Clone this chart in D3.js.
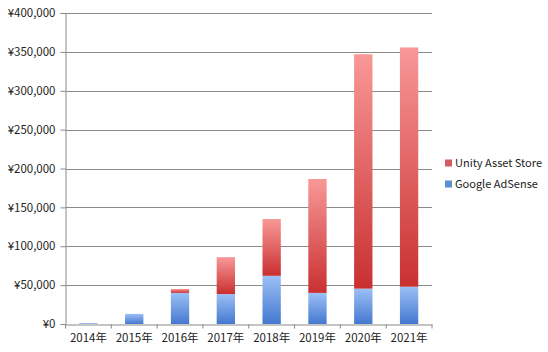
<!DOCTYPE html>
<html>
<head>
<meta charset="utf-8">
<script src="https://cdn.jsdelivr.net/npm/d3@7"></script>
<style>
  body { margin: 0; background: #fff; }
  text { font-family: "Noto Sans CJK JP", "Open Sans", sans-serif; }
</style>
</head>
<body>
<div id="chart"></div>
<script>
const years = ["2014年", "2015年", "2016年", "2017年", "2018年", "2019年", "2020年", "2021年"];
const adsense = [1000, 13000, 40000, 38500, 62000, 40000, 45500, 48000];
const assetStore = [0, 0, 5000, 47500, 73000, 146500, 301500, 307700];
const yTicks = [0, 50000, 100000, 150000, 200000, 250000, 300000, 350000, 400000];
const seriesNames = ["Unity Asset Store", "Google AdSense"];

const width = 548, height = 352;
const margin = { top: 13, right: 116, bottom: 28, left: 65.5 };

const svg = d3.select("#chart").append("svg")
  .attr("width", width)
  .attr("height", height);

// グラデーション
const defs = svg.append("defs");
function grad(id, top, bottom) {
  const g = defs.append("linearGradient").attr("id", id)
    .attr("x1", 0).attr("y1", 0).attr("x2", 0).attr("y2", 1);
  g.append("stop").attr("offset", "0%").attr("stop-color", top);
  g.append("stop").attr("offset", "100%").attr("stop-color", bottom);
}
grad("gBlue", "#9cc0f6", "#4478cf");
grad("gRed", "#f99898", "#c93030");

const x = d3.scaleBand()
  .domain(years)
  .range([margin.left, 432])
  .paddingInner(0.6)
  .paddingOuter(0.3);

const y = d3.scaleLinear()
  .domain([0, 400000])
  .range([324, margin.top]);

// グリッド線
svg.append("g")
  .selectAll("line")
  .data(yTicks.slice(1))
  .enter().append("line")
  .attr("x1", margin.left).attr("x2", 432)
  .attr("y1", d => Math.round(y(d)) + 0.5).attr("y2", d => Math.round(y(d)) + 0.5)
  .attr("stroke", "#8a8a8a");

// 棒
const data = years.map((yr, i) => ({ year: yr, a: adsense[i], u: assetStore[i] }));

svg.append("g").selectAll("rect")
  .data(data).enter().append("rect")
  .attr("x", d => x(d.year))
  .attr("width", x.bandwidth())
  .attr("y", d => y(d.a))
  .attr("height", d => y(0) - y(d.a))
  .attr("fill", "url(#gBlue)");

svg.append("g").selectAll("rect")
  .data(data.filter(d => d.u > 0)).enter().append("rect")
  .attr("x", d => x(d.year))
  .attr("width", x.bandwidth())
  .attr("y", d => y(d.a + d.u))
  .attr("height", d => y(d.a) - y(d.a + d.u))
  .attr("fill", "url(#gRed)");

// Y軸
const yAxis = svg.append("g")
  .attr("transform", `translate(${margin.left},0)`)
  .call(d3.axisLeft(y).tickValues(yTicks).tickSize(5).tickPadding(5)
    .tickFormat(d => "¥" + d3.format(",")(d)));
yAxis.selectAll("path, line").attr("stroke", "#8a8a8a");
yAxis.selectAll("text").attr("font-size", 11.5).attr("fill", "#222");

// X軸
const xAxis = svg.append("g")
  .attr("transform", `translate(0,${Math.round(y(0)) + 0.5})`)
  .call(d3.axisBottom(x).tickSize(0).tickPadding(9));
xAxis.select("path").attr("stroke", "#8a8a8a");
xAxis.selectAll("text").attr("font-size", 11.5).attr("fill", "#222");

const step = x.step();
xAxis.selectAll("line.sep")
  .data(d3.range(years.length + 1)).enter().append("line")
  .attr("class", "sep")
  .attr("x1", i => margin.left + i * (432 - margin.left) / years.length)
  .attr("x2", i => margin.left + i * (432 - margin.left) / years.length)
  .attr("y1", 0).attr("y2", 4)
  .attr("stroke", "#8a8a8a");

// 凡例
const legendColors = ["#d45a66", "#5a8fd0"];
const legend = svg.append("g").selectAll("g")
  .data(seriesNames).enter().append("g")
  .attr("transform", (d, i) => `translate(445,${163 + i * 21})`);
legend.append("rect")
  .attr("x", 0).attr("y", -3.5).attr("width", 7).attr("height", 7)
  .attr("fill", (d, i) => legendColors[i]);
legend.append("text")
  .attr("x", 10).attr("y", 0).attr("dy", "0.35em")
  .attr("font-size", 11).attr("fill", "#222")
  .text(d => d);
</script>
</body>
</html>
